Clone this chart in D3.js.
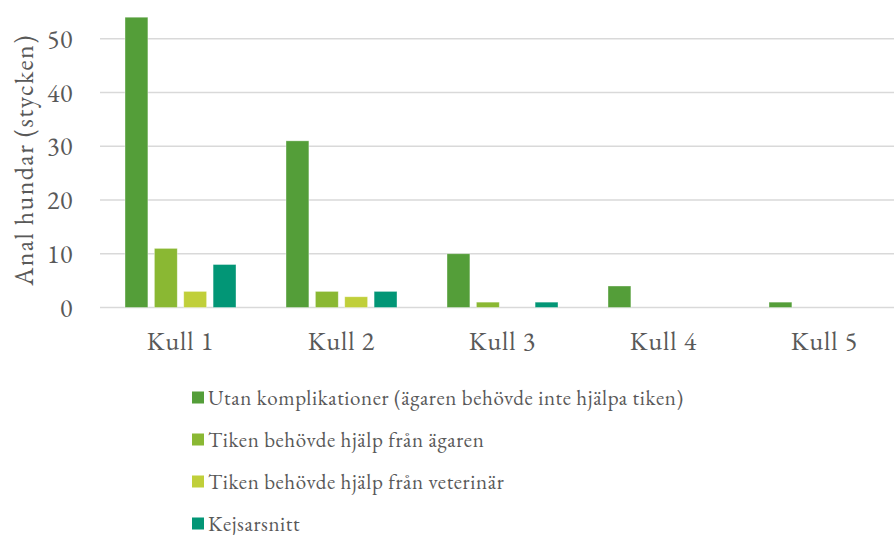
<!DOCTYPE html>
<html>
<head>
<meta charset="utf-8">
<script src="https://cdn.jsdelivr.net/npm/d3@7"></script>
<style>
  body { margin: 0; background: #fff; }
  svg text { font-family: "EB Garamond", Garamond, "Liberation Serif", serif; fill: #595959; }
</style>
</head>
<body>
<div id="chart"></div>
<script>
// data
const categories = ["Kull 1", "Kull 2", "Kull 3", "Kull 4", "Kull 5"];
const seriesNames = [
  "Utan komplikationer (ägaren behövde inte hjälpa tiken)",
  "Tiken behövde hjälp från ägaren",
  "Tiken behövde hjälp från veterinär",
  "Kejsarsnitt"
];
const seriesColors = ["#549E39", "#8AB833", "#C0CF3A", "#029676"];
const utan = [54, 31, 10, 4, 1];
const agaren = [11, 3, 1, 0, 0];
const veterinar = [3, 2, 0, 0, 0];
const kejsarsnitt = [8, 3, 1, 0, 0];
const yTicks = [0, 10, 20, 30, 40, 50];

const values = [utan, agaren, veterinar, kejsarsnitt];

const width = 894, height = 535;
const svg = d3.select("#chart").append("svg")
  .attr("width", width)
  .attr("height", height);

// scales
const y = d3.scaleLinear().domain([0, 50]).range([307.5, 38.7]);
const x0 = d3.scaleBand().domain(categories).range([100, 905]);
const x1 = d3.scaleBand().domain(d3.range(seriesNames.length))
  .range([25, 136]).paddingInner(0.22);

// gridlines
svg.append("g").selectAll("line")
  .data(yTicks)
  .join("line")
  .attr("x1", 100).attr("x2", width)
  .attr("y1", d => y(d)).attr("y2", d => y(d))
  .attr("stroke", "#D9D9D9")
  .attr("stroke-width", 1.5);

// y tick labels
svg.append("g").selectAll("text")
  .data(yTicks)
  .join("text")
  .attr("x", 73)
  .attr("y", d => y(d))
  .attr("dy", "0.35em")
  .attr("text-anchor", "end")
  .style("font-size", "26px")
  .style("letter-spacing", "0.5px")
  .text(d => d);

// bars
const groups = svg.append("g").selectAll("g")
  .data(categories)
  .join("g")
  .attr("transform", d => `translate(${x0(d)},0)`);

groups.selectAll("rect")
  .data((c, ci) => values.map((s, si) => ({ si, v: s[ci] })).filter(d => d.v > 0))
  .join("rect")
  .attr("x", d => x1(d.si))
  .attr("width", x1.bandwidth())
  .attr("y", d => y(d.v))
  .attr("height", d => y(0) - y(d.v))
  .attr("fill", d => seriesColors[d.si])
  .attr("stroke", "#ffffff")
  .attr("stroke-opacity", 0.5)
  .attr("stroke-width", 0.75);

// category labels
svg.append("g").selectAll("text")
  .data(categories)
  .join("text")
  .attr("x", d => x0(d) + x0.bandwidth() / 2)
  .attr("y", 350)
  .attr("text-anchor", "middle")
  .style("font-size", "26px")
  .style("letter-spacing", "1px")
  .text(d => d);

// y axis title
svg.append("text")
  .attr("transform", "translate(33,160) rotate(-90)")
  .attr("text-anchor", "middle")
  .style("font-size", "26px")
  .style("letter-spacing", "1.4px")
  .text("Anal hundar (stycken)");

// legend
const legend = svg.append("g").selectAll("g")
  .data(seriesNames)
  .join("g")
  .attr("transform", (d, i) => `translate(192,${391.5 + i * 42})`);

legend.append("rect")
  .attr("width", 12).attr("height", 12)
  .attr("fill", (d, i) => seriesColors[i]);

legend.append("text")
  .attr("x", 16)
  .attr("y", 6)
  .attr("dy", "0.35em")
  .style("font-size", "21px")
  .style("letter-spacing", "0.6px")
  .text(d => d);
</script>
</body>
</html>
